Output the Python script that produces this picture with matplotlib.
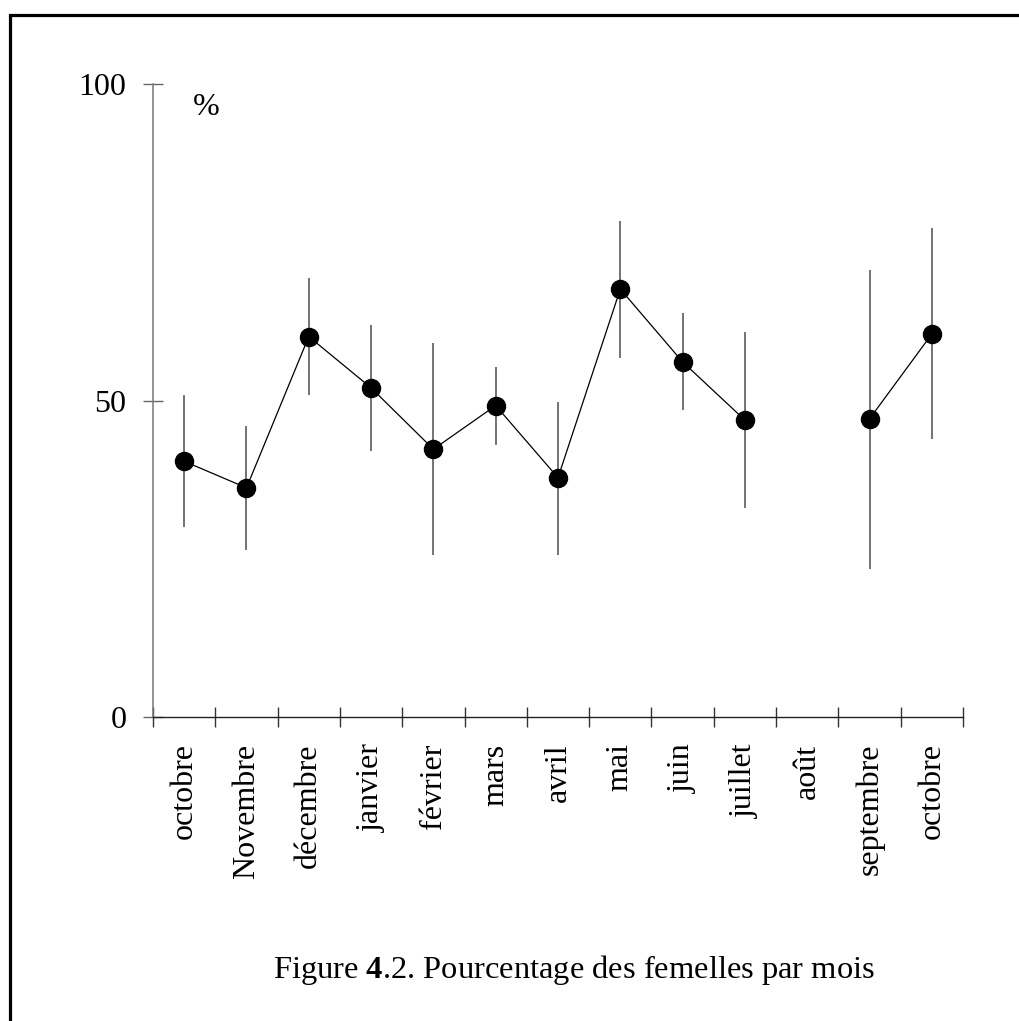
import numpy as np
import matplotlib
matplotlib.use("Agg")
import matplotlib.pyplot as plt
from matplotlib.patches import Rectangle

plt.rcParams['font.family'] = ['Liberation Serif', 'DejaVu Serif']
plt.rcParams['mathtext.fontset'] = 'custom'
plt.rcParams['mathtext.rm'] = 'Liberation Serif'
plt.rcParams['mathtext.bf'] = 'Liberation Serif:bold'

months = ['octobre', 'Novembre', 'décembre', 'janvier', 'février', 'mars',
          'avril', 'mai', 'juin', 'juillet', 'août', 'septembre', 'octobre']
pct = [40.4, 36.2, 60.1, 52.0, 42.3, 49.2, 37.8, 67.6, 56.1, 46.9, np.nan, 47.1, 60.5]
upper = [50.9, 46.0, 69.4, 61.9, 59.1, 55.3, 49.8, 78.4, 63.8, 60.8, np.nan, 70.6, 77.3]
lower = [30.0, 26.4, 50.9, 42.0, 25.6, 43.0, 25.6, 56.7, 48.5, 33.0, np.nan, 23.4, 43.9]
yticks = [0, 50, 100]

W, H = 1020, 1021
fig = plt.figure(figsize=(W / 100, H / 100), dpi=100)
ax = fig.add_axes([153 / W, 1 - 717 / H, (963 - 153) / W, (717 - 84) / H])

x = np.arange(len(months)) + 0.5
pct_a = np.array(pct)
up_a = np.array(upper)
lo_a = np.array(lower)
ok = ~np.isnan(pct_a)

ax.vlines(x[ok], lo_a[ok], up_a[ok], color='#4d4d4d', lw=1.1, zorder=2)
ax.plot(x, pct_a, color='black', lw=0.9, zorder=3)
ax.plot(x[ok], pct_a[ok], 'o', color='black', ms=13, zorder=4)

ax.set_xlim(0, len(months))
ax.set_ylim(0, 100)

for s in ['top', 'right']:
    ax.spines[s].set_visible(False)
ax.spines['left'].set_color('#777777')
ax.spines['left'].set_linewidth(1.1)
ax.spines['bottom'].set_color('#222222')
ax.spines['bottom'].set_linewidth(1.0)

ax.set_yticks(yticks)
ax.set_yticklabels([str(v) for v in yticks], fontsize=23)
ax.tick_params(axis='y', direction='inout', length=14, width=1.0, color='#666666', pad=12)

ax.set_xticks(np.arange(len(months) + 1))
ax.set_xticklabels([])
ax.set_xticks(x, minor=True)
ax.set_xticklabels(months, minor=True, rotation=90, fontsize=23, va='top', ha='center')
ax.tick_params(axis='x', which='major', direction='inout', length=14, width=1.0, color='#333333')
ax.tick_params(axis='x', which='minor', length=0, pad=19)

ax.text(0.85, 96.3, '%', fontsize=23, ha='center', va='center')

fig.text(574 / W, 1 - 970 / H, r'Figure $\mathbf{4}$.2. Pourcentage des femelles par mois',
         fontsize=23.4, ha='center', va='center')

fig.patches.append(Rectangle((10 / W, -0.2), 1.5, 1 - 15 / H + 0.2,
                             transform=fig.transFigure, fill=False,
                             edgecolor='black', lw=2.3))

fig.savefig('out.png', dpi=100)
